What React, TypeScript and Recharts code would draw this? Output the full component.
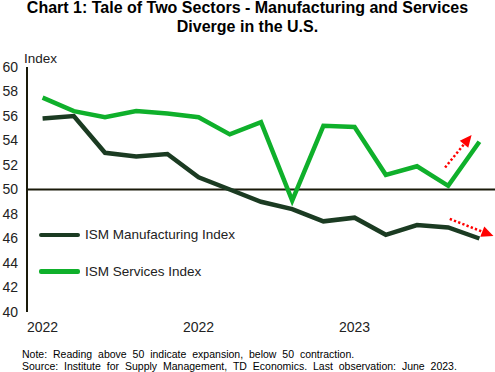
import React from "react";
import { LineChart, Line, XAxis, YAxis, ReferenceLine, Legend } from "recharts";

const months = [
  "Apr 2022", "May 2022", "Jun 2022", "Jul 2022", "Aug 2022", "Sep 2022", "Oct 2022",
  "Nov 2022", "Dec 2022", "Jan 2023", "Feb 2023", "Mar 2023", "Apr 2023", "May 2023", "Jun 2023",
];
const manufacturing = [55.8, 56.0, 53.0, 52.7, 52.9, 51.0, 50.0, 49.0, 48.4, 47.4, 47.7, 46.3, 47.1, 46.9, 46.0];
const services = [57.5, 56.4, 55.9, 56.4, 56.2, 55.9, 54.5, 55.5, 49.1, 55.2, 55.1, 51.2, 51.9, 50.3, 53.9];
const xTickPositions = [0, 5, 10];
const xTickLabels = ["2022", "2022", "2023"];
const yTicks = [40, 42, 44, 46, 48, 50, 52, 54, 56, 58, 60];
const arrowUp = { x1: 12.9, y1: 51.8, x2: 13.75, y2: 54.45 };
const arrowDown = { x1: 13.05, y1: 47.6, x2: 14.45, y2: 46.2 };
const legendOrder = ["ISM Manufacturing Index", "ISM Services Index"];

const data = months.map((m, i) => ({ i, month: m, manufacturing: manufacturing[i], services: services[i] }));

const FONT = "'Liberation Sans', Arial, sans-serif";
const DARK = "#1b3b22";
const BRIGHT = "#0fb02b";
const RED = "#ff0000";

const ArrowShape = (props: any) => {
  const { x1, y1, x2, y2 } = props;
  const dx = x2 - x1;
  const dy = y2 - y1;
  const len = Math.sqrt(dx * dx + dy * dy) || 1;
  const ux = dx / len;
  const uy = dy / len;
  const headLen = 12;
  const headW = 5.5;
  const bx = x2 - ux * headLen;
  const by = y2 - uy * headLen;
  const px = -uy;
  const py = ux;
  return (
    <g>
      <line x1={x1} y1={y1} x2={bx} y2={by} stroke={RED} strokeWidth={2.5} strokeDasharray="2.3 2.2" />
      <polygon
        points={`${x2},${y2} ${bx + px * headW},${by + py * headW} ${bx - px * headW},${by - py * headW}`}
        fill={RED}
      />
    </g>
  );
};

const LegendContent = (props: any) => {
  const payload = [...(props.payload || [])].sort(
    (a: any, b: any) => legendOrder.indexOf(a.value) - legendOrder.indexOf(b.value)
  );
  return (
    <div>
      {payload.map((p: any) => (
        <div key={p.value} style={{ height: 36.7, display: "flex", alignItems: "center" }}>
          <div style={{ width: 41, height: 4.5, background: p.color, borderRadius: 2 }} />
          <span style={{ marginLeft: 5, fontFamily: FONT, fontSize: 13.5, color: "#222" }}>{p.value}</span>
        </div>
      ))}
    </div>
  );
};

export default function App() {
  return (
    <div style={{ position: "absolute", left: 0, top: 0, width: 495, height: 372, background: "#fff" }}>
      <div
        style={{
          position: "absolute",
          left: 0,
          top: -2,
          width: 495,
          textAlign: "center",
          fontFamily: FONT,
          fontWeight: "bold",
          fontSize: 16,
          lineHeight: "19px",
          color: "#000",
        }}
      >
        Chart 1: Tale of Two Sectors - Manufacturing and Services
        <br />
        Diverge in the U.S.
      </div>
      <div style={{ position: "absolute", left: 24, top: 50.5, fontFamily: FONT, fontSize: 13.5, color: "#222" }}>
        Index
      </div>
      <LineChart width={495} height={372} data={data} margin={{ top: 67, right: 0, left: 0, bottom: 35 }}>
        <XAxis
          type="number"
          dataKey="i"
          domain={[-0.5, 14.5]}
          ticks={xTickPositions}
          tickFormatter={(v: number) => xTickLabels[xTickPositions.indexOf(v)] ?? ""}
          axisLine={false}
          tickLine={false}
          tickSize={0}
          tickMargin={10}
          height={25}
          tick={{ fontFamily: FONT, fontSize: 14, fill: "#222" }}
          interval={0}
        />
        <YAxis
          domain={[40, 60]}
          ticks={yTicks}
          width={27}
          axisLine={{ stroke: "#1a1a0a", strokeWidth: 2 }}
          tickLine={false}
          tickSize={0}
          tickMargin={9}
          tick={{ fontFamily: FONT, fontSize: 14, fill: "#222" }}
          interval={0}
        />
        <ReferenceLine y={50} stroke="#1a1a0a" strokeWidth={2} />
        <Line
          type="linear"
          dataKey="services"
          name="ISM Services Index"
          stroke={BRIGHT}
          strokeWidth={4.5}
          dot={false}
          isAnimationActive={false}
        />
        <Line
          type="linear"
          dataKey="manufacturing"
          name="ISM Manufacturing Index"
          stroke={DARK}
          strokeWidth={4.5}
          dot={false}
          isAnimationActive={false}
        />
        <ReferenceLine
          segment={[{ x: arrowUp.x1, y: arrowUp.y1 }, { x: arrowUp.x2, y: arrowUp.y2 }]}
          ifOverflow="visible"
          shape={ArrowShape}
        />
        <ReferenceLine
          segment={[{ x: arrowDown.x1, y: arrowDown.y1 }, { x: arrowDown.x2, y: arrowDown.y2 }]}
          ifOverflow="visible"
          shape={ArrowShape}
        />
        <Legend
          layout="vertical"
          align="center"
          verticalAlign="middle"
          content={LegendContent}
          wrapperStyle={{ position: "absolute", left: 39, top: 216.6, width: 220 }}
        />
      </LineChart>
      <div
        style={{
          position: "absolute",
          left: 22,
          top: 348,
          fontFamily: FONT,
          fontSize: 10.5,
          lineHeight: "12px",
          color: "#000",
          wordSpacing: 3,
          whiteSpace: "nowrap",
        }}
      >
        Note: Reading above 50 indicate expansion, below 50 contraction.
        <br />
        Source: Institute for Supply Management, TD Economics. Last observation: June 2023.
      </div>
    </div>
  );
}
